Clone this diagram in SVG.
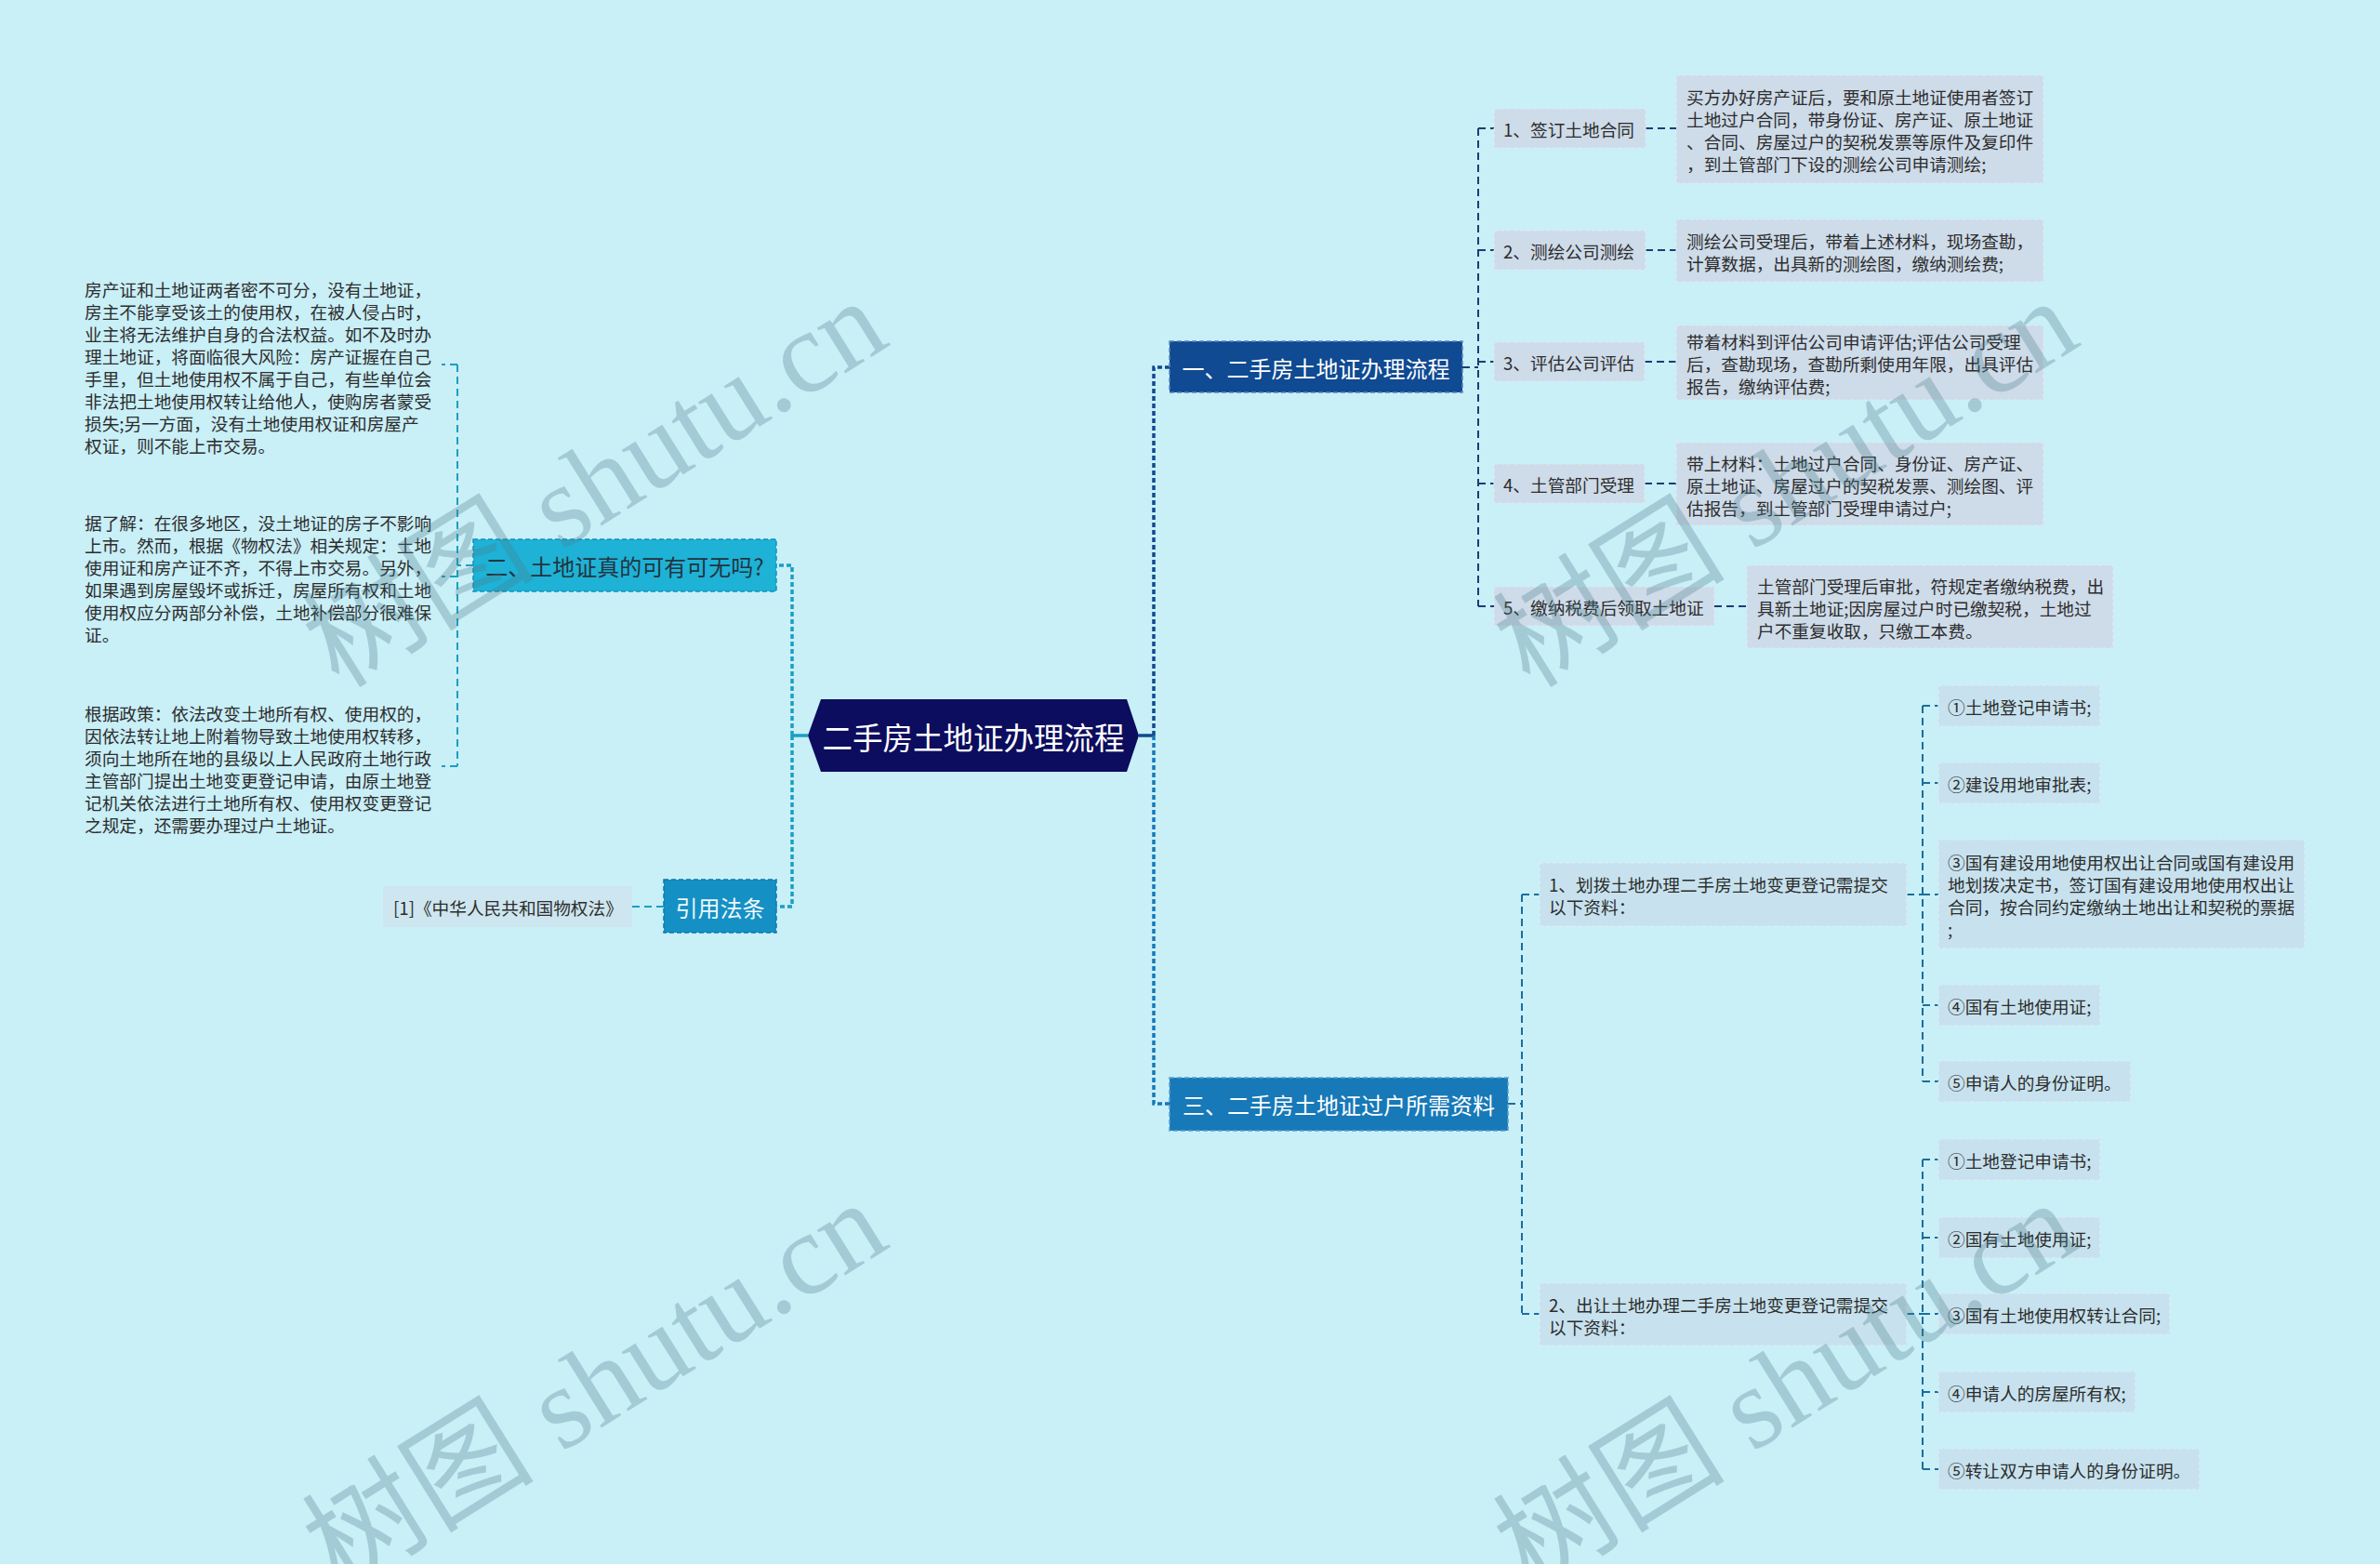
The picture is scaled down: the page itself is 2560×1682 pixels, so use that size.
<svg xmlns="http://www.w3.org/2000/svg" width="2560" height="1682" viewBox="0 0 2560 1682">
<style>
text{font-family:"Noto Sans CJK SC","Noto Sans",sans-serif;dominant-baseline:central}
.s{font-size:18.67px;fill:#2d2d2d}
.b{font-size:24px;text-anchor:middle}
.wt{fill:#ffffff}
.lf{fill:#cedbe9;stroke:#e2e9f2;stroke-width:1.2;stroke-dasharray:4 3}
.lb{fill:#c7e2ee;stroke:#dbeef5;stroke-width:1.2;stroke-dasharray:4 3}
.c{fill:none;stroke-width:2;stroke-dasharray:8 5}
.tk{fill:none;stroke-width:3.5;stroke-dasharray:5 3}
.wm{font-family:"Liberation Serif","Noto Sans CJK SC",serif;font-size:125px;fill:#4a7c8a;opacity:.3;text-anchor:middle}
</style>
<rect width="2560" height="1682" fill="#c9eff7"/>

<g id="connectors">
  <path d="M869 791H852" fill="none" stroke="#1a9fc4" stroke-width="3.5"/>
  <path class="tk" d="M852 791V608H835M852 791V975H835" stroke="#1a9fc4"/>
  <path class="c" d="M509 608H492M492 392V824M492 392H475M492 620H475M492 824H475" stroke="#1a9fc4"/>
  <path class="c" d="M714 975H680" stroke="#1a9fc4"/>
  <path d="M1225 791H1241" fill="none" stroke="#0f4a92" stroke-width="3.5"/>
  <path class="tk" d="M1241 791V395H1258" stroke="#0f4a92"/>
  <path class="tk" d="M1241 791V1187H1258" stroke="#1779b8"/>
  <path class="c" d="M1573 395H1590M1590 138V652M1590 138H1607M1590 269H1607M1590 389H1607M1590 520H1607M1590 652H1607" stroke="#1c3d72"/>
  <path class="c" d="M1770 138H1803M1770 269H1803M1769 389H1803M1769 520H1803M1844 652H1879" stroke="#1c3d72"/>
  <path class="c" d="M1622 1187H1637M1637 962V1413M1637 962H1656M1637 1413H1656" stroke="#1a6e9a"/>
  <path class="c" d="M2051 962H2068M2068 759V1163M2068 759H2085M2068 842H2085M2068 962H2085M2068 1081H2085M2068 1163H2085" stroke="#1a6e9a"/>
  <path class="c" d="M2051 1413H2068M2068 1247V1580M2068 1247H2085M2068 1331H2085M2068 1413H2085M2068 1497H2085M2068 1580H2085" stroke="#1a6e9a"/>
</g>

<g id="root">
  <polygon points="869,791 883,752 1212,752 1225,791 1212,830 883,830" fill="#0c0d5e"/>
  <text x="1047" y="791" class="wt" style="font-size:32.5px;text-anchor:middle">二手房土地证办理流程</text>
</g>

<g id="b2">
  <rect x="509" y="580" width="326" height="56" fill="#1eb2d6" stroke="#0f93bb" stroke-width="1.5" stroke-dasharray="5 3"/>
  <text x="672" y="608" class="b" fill="#233440">二、土地证真的可有可无吗?</text>
</g>
<g id="b2-l1">
  <text class="s"><tspan x="91" y="310">房产证和土地证两者密不可分，没有土地证，</tspan><tspan x="91" y="334">房主不能享受该土的使用权，在被人侵占时，</tspan><tspan x="91" y="358">业主将无法维护自身的合法权益。如不及时办</tspan><tspan x="91" y="382">理土地证，将面临很大风险：房产证握在自己</tspan><tspan x="91" y="406">手里，但土地使用权不属于自己，有些单位会</tspan><tspan x="91" y="430">非法把土地使用权转让给他人，使购房者蒙受</tspan><tspan x="91" y="454">损失;另一方面，没有土地使用权证和房屋产</tspan><tspan x="91" y="478">权证，则不能上市交易。</tspan></text>
</g>
<g id="b2-l2">
  <text class="s"><tspan x="91" y="561">据了解：在很多地区，没土地证的房子不影响</tspan><tspan x="91" y="585">上市。然而，根据《物权法》相关规定：土地</tspan><tspan x="91" y="609">使用证和房产证不齐，不得上市交易。另外，</tspan><tspan x="91" y="633">如果遇到房屋毁坏或拆迁，房屋所有权和土地</tspan><tspan x="91" y="657">使用权应分两部分补偿，土地补偿部分很难保</tspan><tspan x="91" y="681">证。</tspan></text>
</g>
<g id="b2-l3">
  <text class="s"><tspan x="91" y="766">根据政策：依法改变土地所有权、使用权的，</tspan><tspan x="91" y="790">因依法转让地上附着物导致土地使用权转移，</tspan><tspan x="91" y="814">须向土地所在地的县级以上人民政府土地行政</tspan><tspan x="91" y="838">主管部门提出土地变更登记申请，由原土地登</tspan><tspan x="91" y="862">记机关依法进行土地所有权、使用权变更登记</tspan><tspan x="91" y="886">之规定，还需要办理过户土地证。</tspan></text>
</g>

<g id="ref">
  <rect x="714" y="946" width="121" height="57" fill="#1590c4" stroke="#0c78ab" stroke-width="1.5" stroke-dasharray="5 3"/>
  <text x="774.5" y="975" class="b" fill="#eef8fc">引用法条</text>
</g>
<g id="ref-l1">
  <rect x="412" y="953" width="268" height="44" fill="#cde6ef"/>
  <text x="423" y="975" class="s">[1]《中华人民共和国物权法》</text>
</g>

<g id="b1">
  <rect x="1258" y="367" width="315" height="55" fill="#0f4a92" stroke="#5b83bb" stroke-width="1.5" stroke-dasharray="5 3"/>
  <text x="1415.5" y="395" class="b wt">一、二手房土地证办理流程</text>
</g>
<g id="s1">
  <rect class="lf" x="1607" y="117" width="163" height="42"/>
  <text x="1617" y="138" class="s">1、签订土地合同</text>
</g>
<g id="s1-d">
  <rect class="lf" x="1803" y="81" width="395" height="116"/>
  <text class="s"><tspan x="1814" y="103">买方办好房产证后，要和原土地证使用者签订</tspan><tspan x="1814" y="127">土地过户合同，带身份证、房产证、原土地证</tspan><tspan x="1814" y="151">、合同、房屋过户的契税发票等原件及复印件</tspan><tspan x="1814" y="175">，到土管部门下设的测绘公司申请测绘;</tspan></text>
</g>
<g id="s2">
  <rect class="lf" x="1607" y="248" width="163" height="42"/>
  <text x="1617" y="269" class="s">2、测绘公司测绘</text>
</g>
<g id="s2-d">
  <rect class="lf" x="1803" y="236" width="395" height="67"/>
  <text class="s"><tspan x="1814" y="257.5">测绘公司受理后，带着上述材料，现场查勘，</tspan><tspan x="1814" y="281.5">计算数据，出具新的测绘图，缴纳测绘费;</tspan></text>
</g>
<g id="s3">
  <rect class="lf" x="1607" y="368" width="162" height="42"/>
  <text x="1617" y="389" class="s">3、评估公司评估</text>
</g>
<g id="s3-d">
  <rect class="lf" x="1803" y="350" width="395" height="80"/>
  <text class="s"><tspan x="1814" y="366">带着材料到评估公司申请评估;评估公司受理</tspan><tspan x="1814" y="390">后，查勘现场，查勘所剩使用年限，出具评估</tspan><tspan x="1814" y="414">报告，缴纳评估费;</tspan></text>
</g>
<g id="s4">
  <rect class="lf" x="1607" y="499" width="162" height="42"/>
  <text x="1617" y="520" class="s">4、土管部门受理</text>
</g>
<g id="s4-d">
  <rect class="lf" x="1803" y="476" width="395" height="89"/>
  <text class="s"><tspan x="1814" y="497">带上材料：土地过户合同、身份证、房产证、</tspan><tspan x="1814" y="521">原土地证、房屋过户的契税发票、测绘图、评</tspan><tspan x="1814" y="545">估报告，到土管部门受理申请过户;</tspan></text>
</g>
<g id="s5">
  <rect class="lf" x="1607" y="631" width="237" height="42"/>
  <text x="1617" y="652" class="s">5、缴纳税费后领取土地证</text>
</g>
<g id="s5-d">
  <rect class="lf" x="1879" y="608" width="394" height="89"/>
  <text class="s"><tspan x="1890" y="629">土管部门受理后审批，符规定者缴纳税费，出</tspan><tspan x="1890" y="653">具新土地证;因房屋过户时已缴契税，土地过</tspan><tspan x="1890" y="677">户不重复收取，只缴工本费。</tspan></text>
</g>

<g id="b3">
  <rect x="1258" y="1159" width="364" height="57" fill="#1779b8" stroke="#5a9fd0" stroke-width="1.5" stroke-dasharray="5 3"/>
  <text x="1440" y="1187" class="b wt">三、二手房土地证过户所需资料</text>
</g>
<g id="c1">
  <rect class="lb" x="1656" y="928" width="395" height="68"/>
  <text class="s"><tspan x="1666" y="950">1、划拨土地办理二手房土地变更登记需提交</tspan><tspan x="1666" y="974">以下资料：</tspan></text>
</g>
<g id="c1-1"><rect class="lb" x="2085" y="737" width="174" height="44"/><text x="2095" y="759" class="s">①土地登记申请书;</text></g>
<g id="c1-2"><rect class="lb" x="2085" y="820" width="174" height="44"/><text x="2095" y="842" class="s">②建设用地审批表;</text></g>
<g id="c1-3"><rect class="lb" x="2085" y="903" width="394" height="117"/>
  <text class="s"><tspan x="2095" y="926">③国有建设用地使用权出让合同或国有建设用</tspan><tspan x="2095" y="950">地划拨决定书，签订国有建设用地使用权出让</tspan><tspan x="2095" y="974">合同，按合同约定缴纳土地出让和契税的票据</tspan><tspan x="2095" y="998">;</tspan></text></g>
<g id="c1-4"><rect class="lb" x="2085" y="1059" width="174" height="44"/><text x="2095" y="1081" class="s">④国有土地使用证;</text></g>
<g id="c1-5"><rect class="lb" x="2085" y="1141" width="207" height="44"/><text x="2095" y="1163" class="s">⑤申请人的身份证明。</text></g>

<g id="c2">
  <rect class="lb" x="1656" y="1380" width="395" height="67"/>
  <text class="s"><tspan x="1666" y="1402">2、出让土地办理二手房土地变更登记需提交</tspan><tspan x="1666" y="1426">以下资料：</tspan></text>
</g>
<g id="c2-1"><rect class="lb" x="2085" y="1225" width="174" height="44"/><text x="2095" y="1247" class="s">①土地登记申请书;</text></g>
<g id="c2-2"><rect class="lb" x="2085" y="1309" width="174" height="44"/><text x="2095" y="1331" class="s">②国有土地使用证;</text></g>
<g id="c2-3"><rect class="lb" x="2085" y="1391" width="249" height="44"/><text x="2095" y="1413" class="s">③国有土地使用权转让合同;</text></g>
<g id="c2-4"><rect class="lb" x="2085" y="1475" width="212" height="44"/><text x="2095" y="1497" class="s">④申请人的房屋所有权;</text></g>
<g id="c2-5"><rect class="lb" x="2085" y="1558" width="281" height="44"/><text x="2095" y="1580" class="s">⑤转让双方申请人的身份证明。</text></g>

<g id="watermarks">
  <text class="wm" transform="translate(640 520) rotate(-32)">树图 shutu.cn</text>
  <text class="wm" transform="translate(640 1490) rotate(-32)">树图 shutu.cn</text>
  <text class="wm" transform="translate(1921 520) rotate(-32)">树图 shutu.cn</text>
  <text class="wm" transform="translate(1921 1490) rotate(-32)">树图 shutu.cn</text>
</g>
</svg>
